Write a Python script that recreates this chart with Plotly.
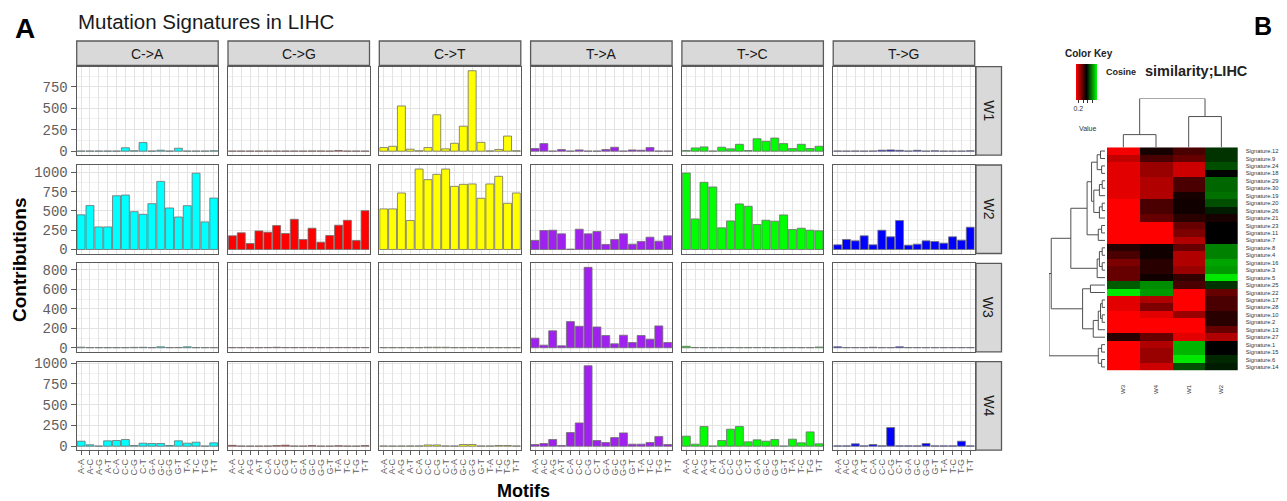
import plotly.graph_objects as go

SW, SH = 1287, 501          # screen size
OFF = 8                     # page body margin
FW, FH = SW - OFF, SH - OFF # figure size

# ---------------- Panel A data ----------------
mutation_types = ["C->A", "C->G", "C->T", "T->A", "T->C", "T->G"]
signature_names = ["W1", "W2", "W3", "W4"]
bases = ["A", "C", "G", "T"]
motifs = [b5 + "-" + b3 for b5 in bases for b3 in bases]
type_colors = ["#00FFFF", "#FF0000", "#FFFF00", "#A020F0", "#00FF00", "#0000FF"]
y_dticks = [250, 250, 200, 250]

W1_contrib = [
    [2, 2, 2, 2, 2, 40, 5, 100, 2, 11, 2, 34, 2, 2, 2, 5],                  # C->A
    [2, 2, 2, 2, 2, 2, 2, 2, 2, 3, 3, 2, 8, 2, 2, 2],                        # C->G
    [42, 57, 527, 23, 5, 42, 424, 27, 92, 291, 937, 103, 3, 20, 176, 5],     # C->T
    [31, 88, 2, 19, 2, 15, 2, 2, 19, 46, 2, 15, 11, 42, 2, 2],               # T->A
    [8, 38, 50, 2, 46, 27, 80, 8, 145, 115, 153, 88, 31, 80, 31, 57],        # T->C
    [3, 2, 3, 2, 3, 12, 15, 10, 3, 10, 2, 5, 2, 2, 2, 5],                    # T->G
]
W2_contrib = [
    [450, 570, 293, 293, 698, 707, 491, 457, 595, 884, 539, 422, 569, 991, 358, 668],
    [177, 216, 78, 241, 224, 310, 207, 392, 129, 276, 95, 181, 315, 379, 116, 504],
    [527, 527, 734, 376, 1045, 907, 976, 1045, 820, 846, 851, 665, 851, 950, 600, 734],
    [117, 246, 250, 203, 5, 263, 203, 233, 65, 130, 203, 69, 104, 160, 108, 177],
    [993, 397, 872, 812, 281, 371, 592, 561, 324, 380, 367, 449, 259, 276, 250, 242],
    [60, 130, 112, 177, 60, 250, 164, 376, 56, 69, 112, 104, 82, 164, 121, 289],
]
W3_contrib = [
    [6, 2, 2, 2, 2, 2, 4, 5, 2, 10, 2, 3, 10, 2, 2, 2],
    [2, 2, 2, 2, 3, 5, 3, 2, 3, 3, 2, 2, 3, 3, 2, 3],
    [2, 2, 2, 2, 2, 5, 5, 5, 2, 2, 3, 2, 2, 2, 2, 2],
    [99, 27, 174, 20, 269, 221, 827, 214, 126, 41, 129, 54, 126, 88, 225, 54],
    [15, 3, 2, 2, 2, 3, 2, 2, 3, 3, 2, 2, 3, 2, 2, 8],
    [10, 2, 2, 2, 5, 2, 2, 10, 2, 2, 2, 2, 2, 2, 2, 2],
]
W4_contrib = [
    [60, 16, 2, 64, 68, 80, 8, 36, 32, 32, 8, 64, 36, 48, 2, 40],
    [10, 3, 2, 2, 3, 8, 12, 3, 3, 8, 2, 2, 6, 3, 2, 8],
    [3, 2, 2, 3, 3, 15, 15, 3, 3, 20, 20, 3, 3, 8, 8, 3],
    [20, 32, 80, 8, 164, 280, 968, 68, 44, 104, 160, 24, 24, 44, 116, 20],
    [120, 24, 236, 2, 68, 204, 236, 52, 76, 60, 80, 2, 84, 40, 172, 28],
    [4, 4, 28, 4, 20, 4, 224, 4, 4, 4, 32, 4, 4, 4, 60, 4],
]

# ---------------- Panel B data ----------------
heat_columns = ["W3", "W4", "W1", "W2"]
# row clustering tree: [merge height, left, right]; leaves are signature numbers
row_tree = [1.0,
            [0.96,
             [0.61,
              [0.32,
               [0.24,
                [0.14, [0.08, "12", "9"], [0.06, "24", "18"]],
                [0.20, [0.10, [0.05, "29", "30"], "19"], [0.10, [0.05, "20", "26"], "21"]]],
               [0.12, [0.06, "23", "11"], "7"]],
              [0.14, [0.10, [0.05, "8", "4"], [0.05, "16", "3"]], "5"]],
             [0.40,
              [0.26, "25", "22"],
              [0.21, [0.12, [0.08, [0.05, "17", "28"], [0.05, "10", "2"]], "13"], "27"]]],
            [0.12, [0.06, "1", "15"], [0.06, "6", "14"]]]
col_tree = [1.0, [0.26, "W3", "W4"], [0.63, "W1", "W2"]]

# cosine similarities, rows in dendrogram leaf order
# (12,9,24,18,29,30,19,20,26,21,23,11,7,8,4,16,3,5,25,22,17,28,10,2,13,27,1,15,6,14)
sim_W3 = [0.12, 0.21, 0.15, 0.15, 0.15, 0.15, 0.15, 0.10, 0.10, 0.10, 0.10, 0.10, 0.10, 0.48, 0.42,
          0.33, 0.37, 0.37, 0.71, 0.96, 0.15, 0.15, 0.10, 0.10, 0.10, 0.48, 0.10, 0.10, 0.10, 0.10]
sim_W4 = [0.51, 0.42, 0.28, 0.28, 0.24, 0.24, 0.24, 0.42, 0.42, 0.37, 0.10, 0.10, 0.10, 0.52, 0.52,
          0.48, 0.48, 0.52, 0.80, 0.82, 0.24, 0.33, 0.15, 0.10, 0.10, 0.37, 0.24, 0.28, 0.28, 0.19]
sim_W1 = [0.42, 0.37, 0.19, 0.19, 0.42, 0.42, 0.51, 0.52, 0.52, 0.48, 0.37, 0.33, 0.24, 0.37, 0.24,
          0.24, 0.28, 0.46, 0.42, 0.10, 0.10, 0.10, 0.28, 0.10, 0.10, 0.15, 0.87, 0.87, 0.96, 0.69]
sim_W2 = [0.64, 0.64, 0.69, 0.55, 0.73, 0.73, 0.75, 0.69, 0.60, 0.51, 0.55, 0.55, 0.55, 0.78, 0.78,
          0.84, 0.82, 0.96, 0.64, 0.37, 0.42, 0.42, 0.48, 0.48, 0.37, 0.24, 0.55, 0.55, 0.62, 0.60]
key_ticks = [0.2, 0.4, 0.6, 0.8]

# ---------------- helpers (screen pixel -> paper) ----------------
def px(x):
    return (x - OFF) / FW

def py(y):
    return 1 - (y - OFF) / FH

def xd(x0, x1):
    return [px(x0), px(x1)]

def yd(y0, y1):
    return [py(y1), py(y0)]

def leaves(node):
    if isinstance(node, str):
        return [node]
    return leaves(node[1]) + leaves(node[2])

def dendro_lines(node, pos_of, xs, ys, horizontal):
    """Collect elbow segments. Returns (position, height)."""
    if isinstance(node, str):
        return pos_of[node], 0.0
    h = node[0]
    p1, h1 = dendro_lines(node[1], pos_of, xs, ys, horizontal)
    p2, h2 = dendro_lines(node[2], pos_of, xs, ys, horizontal)
    seg_p = [p1, p1, p2, p2]
    seg_h = [h1, h, h, h2]
    if horizontal:
        xs += seg_h + [None]
        ys += seg_p + [None]
    else:
        xs += seg_p + [None]
        ys += seg_h + [None]
    return (p1 + p2) / 2.0, h

FONT = "Liberation Sans"
GRID_MAJOR = "#E3E3E3"
GRID_MINOR = "#F1F1F1"
BORDER = "#5A5A5A"
TICK_GRAY = "#5E5E5E"

col_left0, col_step, panel_w = 76.7, 151.3, 141.5
row_tops = [66.7, 165.0, 263.3, 361.7]
panel_h = 88.5

fig = go.Figure()
layout_axes = {}
annotations = []
shapes = []

all_contrib = [W1_contrib, W2_contrib, W3_contrib, W4_contrib]
for r in range(4):
    row_vals = all_contrib[r]
    ymax = max(max(v) for v in row_vals)
    yr = [-0.05 * ymax, 1.05 * ymax]
    y0 = row_tops[r]
    for c in range(6):
        k = r * 6 + c + 1
        x0 = col_left0 + c * col_step
        fig.add_trace(go.Bar(
            x=motifs, y=row_vals[c], xaxis=f"x{k}", yaxis=f"y{k}", width=0.9,
            marker=dict(color=type_colors[c], line=dict(color="#6E6E6E", width=0.8)),
            showlegend=False, name=f"{signature_names[r]} {mutation_types[c]}"))
        layout_axes[f"xaxis{k}"] = dict(
            domain=xd(x0, x0 + panel_w), anchor=f"y{k}", type="category", automargin=False,
            categoryorder="array", categoryarray=motifs, range=[-0.5, 15.5],
            tickmode="array", tickvals=motifs, ticktext=motifs,
            showgrid=True, gridcolor=GRID_MAJOR, gridwidth=1,
            showline=True, mirror=True, linecolor=BORDER, linewidth=1.3, zeroline=False,
            ticks="outside" if r == 3 else "", ticklen=4, tickwidth=1.3, tickcolor=TICK_GRAY,
            showticklabels=(r == 3), tickangle=-90,
            tickfont=dict(family=FONT, size=9, color=TICK_GRAY))
        layout_axes[f"yaxis{k}"] = dict(
            domain=yd(y0, y0 + panel_h), anchor=f"x{k}", range=yr, tick0=0, dtick=y_dticks[r],
            automargin=False,
            showgrid=True, gridcolor=GRID_MAJOR, gridwidth=1,
            minor=dict(dtick=y_dticks[r] / 2, tick0=0, showgrid=True, gridcolor=GRID_MINOR, gridwidth=0.8),
            showline=True, mirror=True, linecolor=BORDER, linewidth=1.3, zeroline=False,
            ticks="outside" if c == 0 else "", ticklen=5, tickwidth=1.3, tickcolor=TICK_GRAY,
            showticklabels=(c == 0),
            tickfont=dict(family="Liberation Mono", size=14, color=TICK_GRAY))
    # right strip
    shapes.append(dict(type="rect", xref="paper", yref="paper",
                       x0=px(976), x1=px(1001.5), y0=py(y0 + panel_h), y1=py(y0),
                       fillcolor="#D9D9D9", line=dict(color=BORDER, width=1.3)))
    annotations.append(dict(x=px(988.7), y=py(y0 + panel_h / 2),
                            text=signature_names[r], textangle=90,
                            font=dict(family=FONT, size=14, color="#1A1A1A")))

for c, mt in enumerate(mutation_types):
    x0 = col_left0 + c * col_step
    shapes.append(dict(type="rect", xref="paper", yref="paper",
                       x0=px(x0), x1=px(x0 + panel_w), y0=py(65.5), y1=py(41),
                       fillcolor="#D9D9D9", line=dict(color=BORDER, width=1.3)))
    annotations.append(dict(x=px(x0 + panel_w / 2), y=py(53.5), text=mt,
                            font=dict(family=FONT, size=14, color="#1A1A1A")))

# ---------------- Panel B ----------------
row_leaves = leaves(row_tree)
row_labels = ["Signature." + s for s in row_leaves]
heat_z = [[sim_W3[i], sim_W4[i], sim_W1[i], sim_W2[i]] for i in range(len(row_leaves))]
hx0, hx1, hy0, hy1 = 1107.0, 1237.7, 147.3, 370.7

fig.add_trace(go.Heatmap(
    z=heat_z, x=list(range(len(heat_columns))), y=list(range(len(row_leaves))),
    xaxis="x25", yaxis="y25",
    colorscale=[[0, "#FF0000"], [0.5, "#000000"], [1, "#00FF00"]], zmin=0.1, zmax=1.0,
    colorbar=dict(orientation="h", x=px(1086.5), xanchor="center", y=py(64), yanchor="top",
                  len=21, lenmode="pixels", thickness=36, thicknessmode="pixels",
                  xpad=0, ypad=0, outlinewidth=0, tickvals=key_ticks,
                  ticktext=["0.2", "", "", ""], ticks="outside", ticklen=3, tickcolor="#333",
                  tickfont=dict(family=FONT, size=7, color="#333")),
    showscale=True))
layout_axes["xaxis25"] = dict(domain=xd(hx0, hx1), anchor="y25", range=[-0.5, 3.5], automargin=False,
                              tickvals=list(range(4)), ticktext=heat_columns, tickangle=-90,
                              tickfont=dict(family=FONT, size=6, color="#333"), ticks="",
                              ticklabelstandoff=12, showgrid=False, zeroline=False, showline=False)
layout_axes["yaxis25"] = dict(domain=yd(hy0, hy1), anchor="x25", side="right", automargin=False,
                              range=[len(row_leaves) - 0.5, -0.5],
                              tickvals=list(range(len(row_leaves))), ticktext=row_labels,
                              tickfont=dict(family=FONT, size=5.8, color="#333"), ticks="",
                              ticklabelstandoff=7, showgrid=False, zeroline=False, showline=False)

# row dendrogram
rx, ry = [], []
dendro_lines(row_tree, {s: i for i, s in enumerate(row_leaves)}, rx, ry, horizontal=True)
fig.add_trace(go.Scatter(x=rx, y=ry, mode="lines", line=dict(color="#505050", width=1),
                         xaxis="x26", yaxis="y26", showlegend=False, hoverinfo="skip"))
layout_axes["xaxis26"] = dict(domain=xd(1049, 1105), anchor="y26", range=[1.0, 0.0], visible=False)
layout_axes["yaxis26"] = dict(domain=yd(hy0, hy1), anchor="x26",
                              range=[len(row_leaves) - 0.5, -0.5], visible=False)

# column dendrogram
cx, cy = [], []
dendro_lines(col_tree, {s: i for i, s in enumerate(heat_columns)}, cx, cy, horizontal=False)
fig.add_trace(go.Scatter(x=cx, y=cy, mode="lines", line=dict(color="#505050", width=1),
                         xaxis="x27", yaxis="y27", showlegend=False, hoverinfo="skip"))
layout_axes["xaxis27"] = dict(domain=xd(hx0, hx1), anchor="y27", range=[-0.5, 3.5], visible=False)
layout_axes["yaxis27"] = dict(domain=yd(98.5, hy0), anchor="x27", range=[0, 1.0], visible=False)

# ---------------- text ----------------
annotations += [
    dict(x=px(25), y=py(28), text="<b>A</b>", font=dict(family=FONT, size=28, color="black")),
    dict(x=px(76), y=py(22), xanchor="left", text="Mutation Signatures in LIHC",
         font=dict(family=FONT, size=20.5, color="#1A1A1A")),
    dict(x=px(19), y=py(260), text="<b>Contributions</b>", textangle=-90,
         font=dict(family=FONT, size=19, color="black")),
    dict(x=px(523), y=py(491), text="<b>Motifs</b>", font=dict(family=FONT, size=18, color="black")),
    dict(x=px(1263), y=py(26), text="<b>B</b>", font=dict(family=FONT, size=25, color="black")),
    dict(x=px(1063), y=py(54), xanchor="left", text="<b>Color Key</b>",
         font=dict(family=FONT, size=10, color="#222")),
    dict(x=px(1104), y=py(72), xanchor="left", text="<b>Cosine</b>",
         font=dict(family=FONT, size=9, color="#222")),
    dict(x=px(1143), y=py(71), xanchor="left", text="<b>similarity;LIHC</b>",
         font=dict(family=FONT, size=14.5, color="#222")),
    dict(x=px(1077), y=py(128), xanchor="left", text="Value",
         font=dict(family=FONT, size=7, color="#333")),
]
for a in annotations:
    a.setdefault("xref", "paper")
    a.setdefault("yref", "paper")
    a.setdefault("xanchor", "center")
    a.setdefault("yanchor", "middle")
    a.setdefault("showarrow", False)

fig.update_layout(
    template="none",
    width=FW, height=FH, margin=dict(l=0, r=0, t=0, b=0, pad=0, autoexpand=False),
    paper_bgcolor="white", plot_bgcolor="white",
    showlegend=False, annotations=annotations, shapes=shapes,
    **layout_axes)

fig.write_html("out.html")
